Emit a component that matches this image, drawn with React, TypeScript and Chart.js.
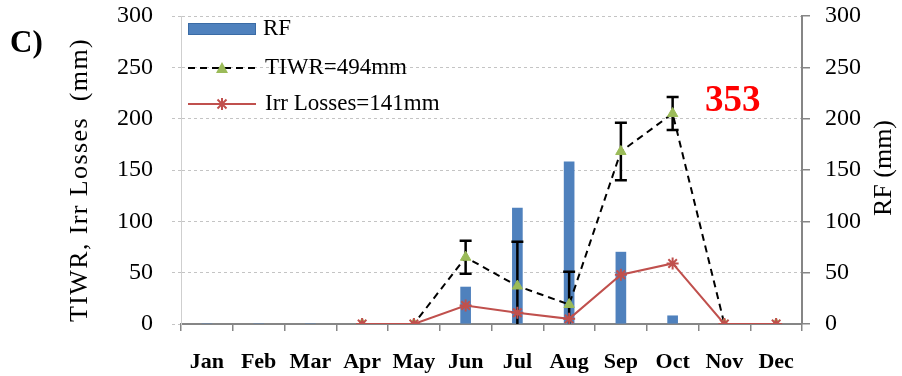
import React, { useEffect, useRef } from 'react';
import { Chart, registerables } from 'chart.js';

Chart.register(...registerables);

const months = ['Jan', 'Feb', 'Mar', 'Apr', 'May', 'Jun', 'Jul', 'Aug', 'Sep', 'Oct', 'Nov', 'Dec'];
const rfValues = [0, 0, 0, 0, 0, 36, 113, 158, 70, 8, 0, 0];
const tiwrValues = [null, null, null, 0, 0, 65, 37, 19, 168, 205, 0, 0];
const tiwrErrors = [null, null, null, null, null, 16, 43, 32, 28, 16, null, null];
const irrLossValues = [null, null, null, 0, 0, 18, 11, 5, 48, 59, 0, 0];
const seriesLabels = ['RF', 'TIWR=494mm', 'Irr Losses=141mm'];
const leftTitle = 'TIWR, Irr Losses  (mm)';
const rightTitle = 'RF (mm)';
const panelLabel = 'C)';
const noteLabel = '353';
const axisMin = 0;
const axisMax = 300;
const axisStep = 50;

const SERIF = "'Liberation Serif', 'Times New Roman', serif";
const BLUE = '#4F81BD';
const GREEN = '#9BBB59';
const RED = '#C0504D';
const AXIS_GRAY = '#868686';
const GRID_GRAY = '#C4C4C4';

const errorBarPlugin = {
  id: 'errorBars',
  beforeDatasetDraw(chart: any, args: any) {
    if (args.index !== 1) return;
    const { ctx, chartArea } = chart;
    const xs = chart.scales.x;
    const ys = chart.scales.y;
    ctx.save();
    ctx.beginPath();
    ctx.rect(chartArea.left, chartArea.top - 20, chartArea.right - chartArea.left, chartArea.bottom - chartArea.top + 20);
    ctx.clip();
    ctx.strokeStyle = '#000';
    ctx.lineWidth = 2.5;
    tiwrValues.forEach((v, i) => {
      const e = tiwrErrors[i];
      if (v == null || e == null) return;
      const px = xs.getPixelForValue(i);
      const top = ys.getPixelForValue(v + e);
      const bot = ys.getPixelForValue(v - e);
      ctx.beginPath();
      ctx.moveTo(px, top);
      ctx.lineTo(px, bot);
      ctx.moveTo(px - 6, top);
      ctx.lineTo(px + 6, top);
      ctx.moveTo(px - 6, bot);
      ctx.lineTo(px + 6, bot);
      ctx.stroke();
    });
    ctx.restore();
  },
};

const overlayPlugin = {
  id: 'overlay',
  afterDraw(chart: any) {
    const { ctx, chartArea } = chart;
    ctx.save();
    // panel label
    ctx.fillStyle = '#000';
    ctx.font = `bold 31px ${SERIF}`;
    ctx.textAlign = 'left';
    ctx.textBaseline = 'alphabetic';
    ctx.fillText(panelLabel, 10, 52);

    // note
    ctx.fillStyle = '#FF0000';
    ctx.font = `bold 37px ${SERIF}`;
    ctx.fillText(noteLabel, 705, 111);

    // legend
    const lx = chartArea.left + 7;
    const lw = 68;
    const rows = [29, 68, 104];
    ctx.font = `23px ${SERIF}`;
    ctx.textBaseline = 'middle';
    ctx.fillStyle = BLUE;
    ctx.fillRect(lx, rows[0] - 6, lw, 12);
    ctx.strokeStyle = '#3A6BA5';
    ctx.lineWidth = 1;
    ctx.strokeRect(lx + 0.5, rows[0] - 5.5, lw - 1, 11);
    ctx.strokeStyle = '#000';
    ctx.lineWidth = 2;
    ctx.setLineDash([7, 5]);
    ctx.beginPath();
    ctx.moveTo(lx, rows[1]);
    ctx.lineTo(lx + lw, rows[1]);
    ctx.stroke();
    ctx.setLineDash([]);
    ctx.fillStyle = GREEN;
    const cx = lx + lw / 2;
    ctx.beginPath();
    ctx.moveTo(cx, rows[1] - 6);
    ctx.lineTo(cx + 6, rows[1] + 5);
    ctx.lineTo(cx - 6, rows[1] + 5);
    ctx.closePath();
    ctx.fill();
    ctx.strokeStyle = RED;
    ctx.lineWidth = 2;
    ctx.beginPath();
    ctx.moveTo(lx, rows[2]);
    ctx.lineTo(lx + lw, rows[2]);
    ctx.stroke();
    ctx.beginPath();
    ctx.moveTo(cx - 4.5, rows[2] - 4.5);
    ctx.lineTo(cx + 4.5, rows[2] + 4.5);
    ctx.moveTo(cx + 4.5, rows[2] - 4.5);
    ctx.lineTo(cx - 4.5, rows[2] + 4.5);
    ctx.moveTo(cx, rows[2] - 6);
    ctx.lineTo(cx, rows[2] + 6);
    ctx.stroke();
    ctx.fillStyle = '#000';
    ctx.fillText(seriesLabels[0], lx + lw + 7, rows[0]);
    ctx.fillText(seriesLabels[1], lx + lw + 9, rows[1]);
    ctx.fillText(seriesLabels[2], lx + lw + 9, rows[2]);

    // axis titles (both read bottom to top)
    ctx.font = `26px ${SERIF}`;
    ctx.textAlign = 'center';
    ctx.textBaseline = 'middle';
    ctx.save();
    ctx.translate(80, 180);
    ctx.rotate(-Math.PI / 2);
    (ctx as any).letterSpacing = '1.4px';
    ctx.fillText(leftTitle, 0, 0);
    ctx.restore();

    ctx.save();
    ctx.translate(884, 168);
    ctx.rotate(-Math.PI / 2);
    ctx.fillText(rightTitle, 0, 0);
    ctx.restore();
    ctx.restore();
  },
};

export default function App() {
  const canvasRef = useRef<HTMLCanvasElement | null>(null);

  useEffect(() => {
    document.body.style.margin = '0';
    const canvas = canvasRef.current;
    if (!canvas) return;
    const chart = new Chart(canvas, {
      type: 'bar',
      data: {
        labels: months,
        datasets: [
          {
            type: 'bar',
            label: seriesLabels[0],
            data: rfValues,
            yAxisID: 'y2',
            backgroundColor: BLUE,
            borderWidth: 0,
            barThickness: 10,
            order: 3,
          },
          {
            type: 'line',
            label: seriesLabels[1],
            data: tiwrValues,
            yAxisID: 'y',
            borderColor: '#000',
            borderWidth: 2,
            borderDash: [7, 5],
            pointStyle: 'triangle',
            pointRadius: 6,
            pointBackgroundColor: GREEN,
            pointBorderColor: GREEN,
            pointBorderWidth: 1,
            tension: 0,
            order: 2,
          },
          {
            type: 'line',
            label: seriesLabels[2],
            data: irrLossValues,
            yAxisID: 'y',
            borderColor: RED,
            borderWidth: 2,
            pointStyle: 'star',
            pointRadius: 6,
            pointBorderColor: RED,
            pointBackgroundColor: RED,
            pointBorderWidth: 2,
            tension: 0,
            order: 1,
          },
        ] as any,
      },
      options: {
        responsive: false,
        animation: false,
        devicePixelRatio: 1,
        layout: { padding: { top: 16, left: 0, right: 0, bottom: 0 } },
        plugins: {
          legend: { display: false },
          tooltip: { enabled: false },
        },
        scales: {
          x: {
            type: 'category',
            offset: true,
            grid: {
              offset: true,
              drawOnChartArea: false,
              drawTicks: true,
              tickLength: 7,
              color: AXIS_GRAY,
              lineWidth: 1.5,
            },
            border: { display: true, color: AXIS_GRAY, width: 2 },
            ticks: {
              font: { family: SERIF, size: 22, weight: 'bold' },
              color: '#000',
              padding: 18,
              maxRotation: 0,
              autoSkip: false,
            },
            afterFit(s: any) {
              s.height = 52;
            },
          },
          y: {
            position: 'left',
            min: axisMin,
            max: axisMax,
            ticks: {
              stepSize: axisStep,
              font: { family: SERIF, size: 24 },
              color: '#000',
              padding: 19,
            },
            grid: {
              color: GRID_GRAY,
              lineWidth: 1,
              tickLength: 9,
              tickColor: GRID_GRAY,
              tickBorderDash: [3, 3],
            },
            border: { display: true, color: '#CFCFCF', width: 1, dash: [3, 3] },
            afterFit(s: any) {
              s.width = 181;
              s.paddingTop = 0;
              s.paddingBottom = 0;
            },
          },
          y2: {
            position: 'right',
            min: axisMin,
            max: axisMax,
            ticks: {
              stepSize: axisStep,
              font: { family: SERIF, size: 24 },
              color: '#000',
              padding: 15,
            },
            grid: {
              drawOnChartArea: false,
              tickLength: 8,
              color: AXIS_GRAY,
              lineWidth: 1.5,
            },
            border: { display: true, color: AXIS_GRAY, width: 2 },
            afterFit(s: any) {
              s.width = 100;
              s.paddingTop = 0;
              s.paddingBottom = 0;
            },
          },
        },
      } as any,
      plugins: [errorBarPlugin, overlayPlugin],
    });
    return () => chart.destroy();
  }, []);

  return (
    <div style={{ width: 902, height: 376 }}>
      <canvas ref={canvasRef} width={902} height={376} />
    </div>
  );
}
